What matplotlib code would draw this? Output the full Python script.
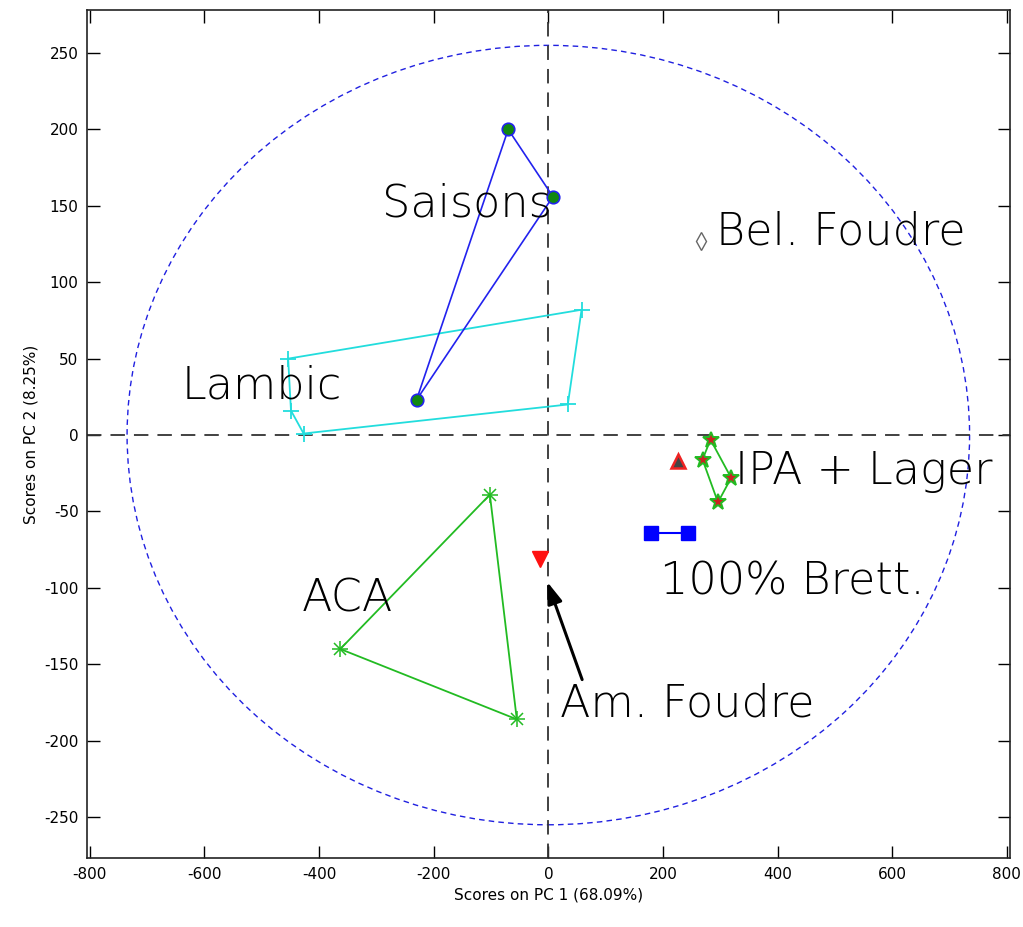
import matplotlib
matplotlib.use("Agg")
import matplotlib.pyplot as plt
from matplotlib.patches import Ellipse

plt.rcParams["axes.unicode_minus"] = False

# PCA scores (PC1, PC2) per beer group
saisons_x = [-70, 8, -230]
saisons_y = [200, 156, 23]

lambic_x = [-454, 58, 34, -427, -449]
lambic_y = [50, 82, 20, 1, 16]

aca_x = [-102, -363, -55]
aca_y = [-39, -140, -186]

ipa_lager_x = [283, 319, 296, 269]
ipa_lager_y = [-3, -28, -44, -16]

brett_x = [179, 243]
brett_y = [-64, -64]

red_tri_x = [227]
red_tri_y = [-17]

am_foudre_x = [-14]
am_foudre_y = [-81]

bel_foudre_x = [267]
bel_foudre_y = [127]

# 95% confidence ellipse semi-axes
ellipse_a = 735
ellipse_b = 255

x_ticks = [-800, -600, -400, -200, 0, 200, 400, 600, 800]
y_ticks = [-250, -200, -150, -100, -50, 0, 50, 100, 150, 200, 250]

group_labels = [
    ("Saisons", -290, 151),
    ("Bel. Foudre", 292, 133),
    ("Lambic", -640, 32),
    ("IPA + Lager", 325, -24),
    ("100% Brett.", 195, -96),
    ("ACA", -431, -107),
    ("Am. Foudre", 21, -176),
]


def closed(xs, ys):
    return list(xs) + [xs[0]], list(ys) + [ys[0]]


fig = plt.figure(figsize=(10.23, 9.27), dpi=100)
ax = fig.add_axes([0.085, 0.074, 0.902, 0.915])

ax.add_patch(Ellipse((0, 0), 2 * ellipse_a, 2 * ellipse_b, fill=False,
                     edgecolor="#2020e0", linestyle=(0, (4, 3)), linewidth=1.0))

ax.axhline(0, color="#333333", linestyle=(0, (8, 5)), linewidth=1.3)
ax.axvline(0, color="#333333", linestyle=(0, (8, 5)), linewidth=1.3)

# Lambic
lx, ly = closed(lambic_x, lambic_y)
ax.plot(lx, ly, color="#22dddd", linewidth=1.3)
ax.plot(lambic_x, lambic_y, "+", color="#22dddd", markersize=12, markeredgewidth=1.3)

# Saisons
sx, sy = closed(saisons_x, saisons_y)
ax.plot(sx, sy, color="#2222ee", linewidth=1.2)
ax.plot(saisons_x, saisons_y, "o", markerfacecolor="#118811",
        markeredgecolor="#2222ee", markersize=9, markeredgewidth=1.2)

# ACA
ax_, ay_ = closed(aca_x, aca_y)
ax.plot(ax_, ay_, color="#22bb22", linewidth=1.3)
ax.plot(aca_x, aca_y, "x", color="#22bb22", markersize=8, markeredgewidth=1.1)
ax.plot(aca_x, aca_y, "+", color="#22bb22", markersize=11, markeredgewidth=1.1)

# IPA + Lager
ix, iy = closed(ipa_lager_x, ipa_lager_y)
ax.plot(ix, iy, color="#22bb22", linewidth=1.3)
ax.plot(ipa_lager_x, ipa_lager_y, "*", markerfacecolor="#cc2222",
        markeredgecolor="#22bb22", markersize=12, markeredgewidth=1.4)

# Unlabelled red triangle
ax.plot(red_tri_x, red_tri_y, "^", markerfacecolor="#444444",
        markeredgecolor="#ee2222", markersize=10, markeredgewidth=1.8)

# 100% Brett.
ax.plot(brett_x, brett_y, "-s", color="#0000ff", markersize=10, linewidth=1.5)

# Am. Foudre
ax.plot(am_foudre_x, am_foudre_y, "v", color="#ff1111", markersize=11)

# Bel. Foudre
ax.plot(bel_foudre_x, bel_foudre_y, "d", markerfacecolor="white",
        markeredgecolor="#666666", markersize=9, markeredgewidth=1.0)

for text, x, y in group_labels:
    ax.text(x, y, text, fontsize=32, family="DejaVu Sans", color="black",
            ha="left", va="center", fontweight="light")

ax.annotate("", xy=(-2, -96), xytext=(59, -160),
            arrowprops=dict(arrowstyle="-|>,head_length=1.3,head_width=0.45",
                            color="black", lw=2.2, shrinkA=0, shrinkB=0))

ax.set_xlim(-805, 805)
ax.set_ylim(-277, 278)
ax.set_xticks(x_ticks)
ax.set_yticks(y_ticks)
ax.tick_params(direction="in", length=9, width=1.0, top=True, right=True,
               labelsize=11, pad=6)
for spine in ax.spines.values():
    spine.set_linewidth(1.2)
    spine.set_color("#222222")

ax.set_xlabel("Scores on PC 1 (68.09%)", fontsize=11, labelpad=4)
ax.set_ylabel("Scores on PC 2 (8.25%)", fontsize=11, labelpad=4)

fig.savefig("out.png", dpi=100, facecolor="white")
